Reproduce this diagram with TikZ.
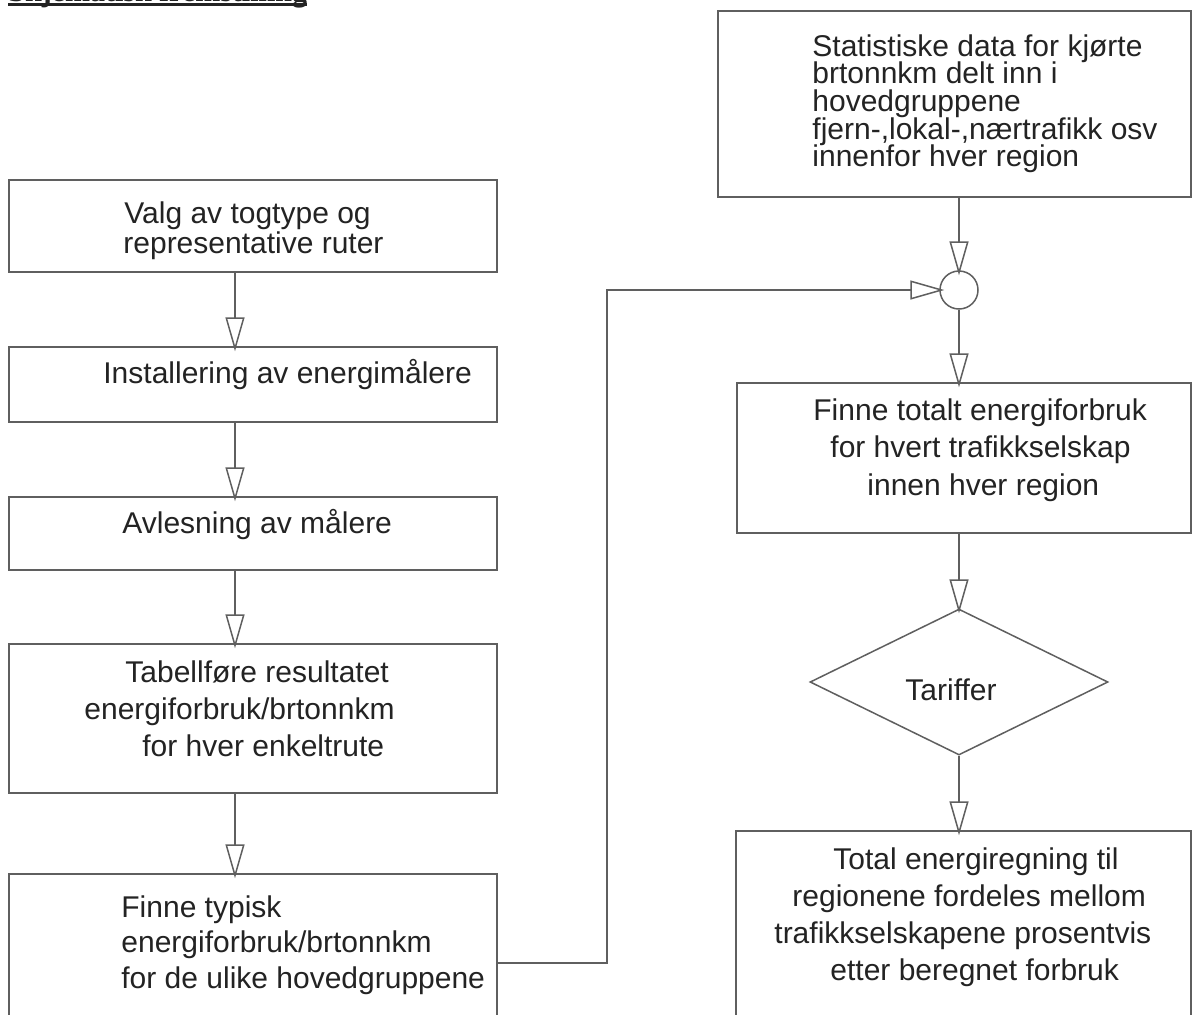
\documentclass[tikz,border=0pt]{standalone}
\usepackage{fontspec}
\setmainfont{Liberation Sans}
\newfontfamily\headfont{Liberation Serif}
\usetikzlibrary{arrows.meta,shapes.geometric}

\definecolor{edge}{RGB}{95,95,95}
\definecolor{ink}{RGB}{35,35,35}

% one line of a text block, pushed right by #1
\newcommand\txtrow[2]{\hbox{\kern#1\relax #2}}
% a block of lines with a fixed baseline distance #1; its baseline is the first line's
\newcommand\txtstack[2]{\vtop{\baselineskip=#1\relax\lineskiplimit=-100pt\relax #2}}

\begin{document}
\begin{tikzpicture}[x=0.5pt,y=-0.5pt,
  box/.style={draw=edge,line width=0.75pt,inner sep=0pt,rectangle},
  lbox/.style={box,minimum width=244pt},
  txt/.style={inner sep=0pt,anchor=base west,text=ink,font=\fontsize{15pt}{18pt}\selectfont},
  flow/.style={draw=edge,line width=0.75pt,
    -{Triangle[open,length=17pt,width=9.5pt,fill=white]},shorten >=-2.5pt}]

\useasboundingbox (0,0) rectangle (1193,1014);
\fill[white] (0,0) rectangle (1193,1014);
\clip (0,0) rectangle (1193,1014);

% heading
\node[inner sep=0pt,anchor=base west,text=ink,
  font=\headfont\bfseries\fontsize{15pt}{18pt}\selectfont] (title) at (8,1) {Skjematisk fremstilling};
\draw[ink,line width=1.5pt] ([yshift=-1.7pt]title.base west) -- ([yshift=-1.7pt]title.base east);

% left column
\node[lbox,minimum height=46pt]   (b1) at (253,226) {};
\node[lbox,minimum height=37.5pt] (b2) at (253,384.5) {};
\node[lbox,minimum height=36.5pt] (b3) at (253,533.5) {};
\node[lbox,minimum height=74.5pt] (b4) at (253,718.5) {};
\node[lbox,minimum height=89pt]   (b5) at (253,963) {};

\node[txt] (t1) at (123,223) {\txtstack{15pt}{%
  \txtrow{0.5pt}{Valg av togtype og}
  \txtrow{0pt}{representative ruter}}};
\node[txt] (t2) at (103,383) {Installering av energimålere};
\node[txt] (t3) at (122,533) {Avlesning av målere};
\node[txt] (t4) at (84,682) {\txtstack{18.6pt}{%
  \txtrow{20.5pt}{Tabellføre resultatet}
  \txtrow{0pt}{energiforbruk/brtonnkm}
  \txtrow{29pt}{for hver enkeltrute}}};
\node[txt] (t5) at (121,917) {\txtstack{17.75pt}{%
  \txtrow{0pt}{Finne typisk}
  \txtrow{0pt}{energiforbruk/brtonnkm}
  \txtrow{0pt}{for de ulike hovedgruppene}}};

% right column
\node[box,minimum width=236.5pt,minimum height=93pt]  (r1) at (954.5,104) {};
\node[box,circle,minimum size=19pt]                    (mix) at (959,290) {};
\node[box,minimum width=227pt,minimum height=75pt]    (r2) at (964,458) {};
\node[draw=edge,line width=0.75pt,diamond,aspect=2.04,inner sep=0pt,
  minimum width=149pt,minimum height=73pt]             (tariff) at (959,682) {};
\node[box,minimum width=227.5pt,minimum height=104.5pt] (r3) at (963.5,935.5) {};

\node[txt] (s1) at (812,56) {\txtstack{13.85pt}{%
  \txtrow{0pt}{Statistiske data for kjørte}
  \txtrow{0pt}{brtonnkm delt inn i}
  \txtrow{0pt}{hovedgruppene}
  \txtrow{0pt}{fjern-,lokal-,nærtrafikk osv}
  \txtrow{0pt}{innenfor hver region}}};
\node[txt] (s2) at (813,420) {\txtstack{18.75pt}{%
  \txtrow{0pt}{Finne totalt energiforbruk}
  \txtrow{8.5pt}{for hvert trafikkselskap}
  \txtrow{27pt}{innen hver region}}};
\node[txt] (s3) at (905,700) {Tariffer};
\node[txt] (s4) at (774,869) {\txtstack{18.5pt}{%
  \txtrow{29.5pt}{Total energiregning til}
  \txtrow{9pt}{regionene fordeles mellom}
  \txtrow{0pt}{trafikkselskapene prosentvis}
  \txtrow{28pt}{etter beregnet forbruk}}};

% connectors
\coordinate (colL) at (235,0);
\coordinate (bend) at (607,290);
\draw[flow] (b1.south -| colL) -- (b2.north -| colL);
\draw[flow] (b2.south -| colL) -- (b3.north -| colL);
\draw[flow] (b3.south -| colL) -- (b4.north -| colL);
\draw[flow] (b4.south -| colL) -- (b5.north -| colL);
\draw[flow] (b5.east) -| (bend) -- (mix.west);
\draw[flow] (r1.south -| mix) -- (mix.north);
\draw[flow] (mix.south) -- (r2.north -| mix);
\draw[flow] (r2.south -| mix) -- (tariff.north);
\draw[flow] (tariff.south) -- (r3.north -| mix);
\end{tikzpicture}
\end{document}
